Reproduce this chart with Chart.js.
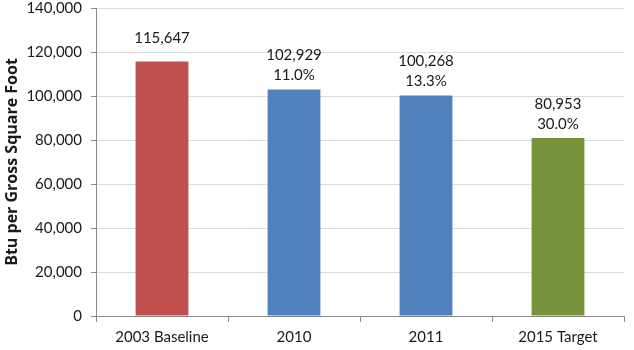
<!DOCTYPE html>
<html>
<head>
<meta charset="utf-8">
<script src="https://cdn.jsdelivr.net/npm/chart.js@4/dist/chart.umd.min.js"></script>
<style>
  html, body { margin: 0; padding: 0; background: #fff; }
  #wrap { width: 634px; height: 350px; }
</style>
</head>
<body>
<div id="wrap"><canvas id="chart" width="634" height="350"></canvas></div>
<script>
const categories = ['2003 Baseline', '2010', '2011', '2015 Target'];
const btuValues = [115647, 102929, 100268, 80953];
const reductionLabels = ['', '11.0%', '13.3%', '30.0%'];
const barColors = ['#C0504D', '#4F81BD', '#4F81BD', '#77933C'];
const yTicks = [0, 20000, 40000, 60000, 80000, 100000, 120000, 140000];

// value + reduction text above each bar
const barLabels = {
  id: 'barLabels',
  afterDatasetsDraw(chart) {
    const ctx = chart.ctx;
    const meta = chart.getDatasetMeta(0);
    ctx.save();
    ctx.font = '15px Lato';
    ctx.fillStyle = '#1a1a1a';
    ctx.textAlign = 'center';
    ctx.textBaseline = 'middle';
    meta.data.forEach((bar, i) => {
      const val = btuValues[i].toLocaleString('en-US');
      const pct = reductionLabels[i];
      if (pct) {
        ctx.fillText(pct, bar.x, bar.y - 14);
        ctx.fillText(val, bar.x, bar.y - 34);
      } else {
        ctx.fillText(val, bar.x, bar.y - 23);
      }
    });
    ctx.restore();
  }
};

const ctx = document.getElementById('chart').getContext('2d');
new Chart(ctx, {
  type: 'bar',
  data: {
    labels: categories,
    datasets: [{
      data: btuValues,
      backgroundColor: barColors,
      borderWidth: 0,
      categoryPercentage: 1,
      barPercentage: 0.4,
    }],
  },
  options: {
    responsive: false,
    animation: false,
    layout: { padding: { top: 8, right: 10, left: 0, bottom: 0 } },
    plugins: { legend: { display: false }, tooltip: { enabled: false } },
    scales: {
      x: {
        grid: { drawOnChartArea: false, tickLength: 6, tickColor: '#888', color: '#888' },
        border: { color: '#888' },
        ticks: { color: '#1a1a1a', font: { family: 'Lato', size: 15 }, padding: 6, maxRotation: 0 },
        afterFit(scale) { scale.height = 34; },
      },
      y: {
        min: 0,
        max: 140000,
        afterBuildTicks(scale) { scale.ticks = yTicks.map(v => ({ value: v })); },
        grid: { color: '#DCDCDC', tickLength: 5, tickColor: '#888' },
        border: { color: '#888' },
        ticks: {
          color: '#1a1a1a',
          font: { family: 'Lato', size: 15 },
          padding: 9,
          callback: v => v.toLocaleString('en-US'),
        },
        title: {
          display: true,
          text: 'Btu per Gross Square Foot',
          color: '#1a1a1a',
          font: { family: 'Open Sans', size: 16, weight: 'bold' },
          padding: { top: 3, bottom: 0 },
        },
        afterFit(scale) {
          scale.width = 96;
          scale.paddingTop = 0;
          scale.paddingBottom = 0;
        },
      },
    },
  },
  plugins: [barLabels],
});
</script>
</body>
</html>
